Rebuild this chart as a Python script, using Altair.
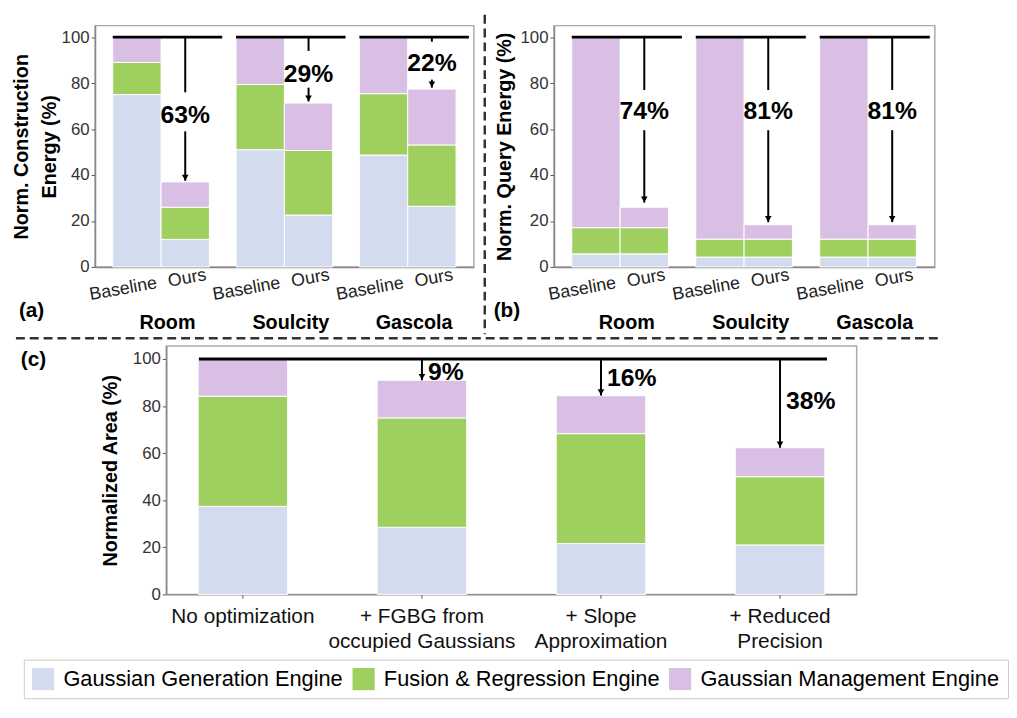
import altair as alt
import pandas as pd

FONT = "Liberation Sans"

engines = ["Gaussian Generation Engine", "Fusion & Regression Engine", "Gaussian Management Engine"]
colors = ["#D3DCEF", "#9FCF5F", "#D8BFE3"]
scenes = ["Room", "Soulcity", "Gascola"]
methods = ["Baseline", "Ours"]

# (a) construction energy, order: Room-B, Room-O, Soulcity-B, Soulcity-O, Gascola-B, Gascola-O
cons_gen = [75.0, 12.0, 51.0, 22.6, 48.7, 26.4]
cons_fus = [14.0, 14.0, 28.4, 28.1, 26.7, 26.7]
cons_mgmt = [11.0, 11.0, 20.6, 20.6, 24.6, 24.3]
cons_labels = ["63%", "29%", "22%"]
cons_text_y = [66.0, 84.0, 88.6]
cons_arrow_top_end = [76.0, 94.0, 98.0]
cons_arrow_low_start = [59.0, 78.0, 81.5]
cons_arrow_tip = [37.5, 72.0, 78.0]

# (b) query energy
query_gen = [5.7, 5.7, 4.3, 4.3, 4.3, 4.3]
query_fus = [11.4, 11.4, 7.8, 7.8, 7.8, 7.8]
query_mgmt = [82.9, 8.9, 87.9, 6.3, 87.9, 6.3]
query_labels = ["74%", "81%", "81%"]
query_text_y = [68.0, 68.0, 68.0]
query_arrow_top_end = [77.0, 77.0, 77.0]
query_arrow_low_start = [59.5, 59.5, 59.5]
query_arrow_tip = [28.0, 19.5, 19.5]

# (c) normalized area
steps = ["No optimization", "+ FGBG from\noccupied Gaussians", "+ Slope\nApproximation", "+ Reduced\nPrecision"]
area_gen = [37.4, 28.5, 21.6, 21.0]
area_fus = [46.8, 46.5, 46.7, 29.0]
area_mgmt = [15.8, 16.0, 16.1, 12.3]
area_labels = ["9%", "16%", "38%"]
area_text_y = [94.5, 92.0, 82.0]
area_arrow_tip = [91.0, 84.5, 62.3]

H_TOP = 244
DASH = dict(color="#333333", strokeWidth=2.5, strokeDash=[9, 5])
D1 = pd.DataFrame({"d": [0]})
HIDDEN = alt.ViewBackground(strokeOpacity=0)

# one shared legend (identical in every panel so that it merges into a single one)
LEGEND = alt.Legend(orient="none", legendX=-72, legendY=641, direction="horizontal",
                    title=None, symbolType="square", symbolSize=500,
                    symbolStrokeWidth=0, symbolOpacity=1, labelFontSize=22,
                    labelFont=FONT, labelColor="black", labelOffset=9,
                    columnPadding=9, padding=8, strokeColor="#cccccc",
                    labelLimit=400)
COLOR = alt.Color("engine:N", scale=alt.Scale(domain=engines, range=colors), legend=LEGEND)


def anchor(x1, x2, y1, y2):
    # invisible helper that fixes the layout extent of a panel
    return alt.Chart(D1).mark_rule(opacity=0, strokeWidth=1, color="white").encode(
        x=alt.value(x1), x2=alt.value(x2), y=alt.value(y1), y2=alt.value(y2))


def grouped_panel(gen, fus, mgmt, labels, text_y, top_end, low_start, tip,
                  ytitle, title_pad, tag, tag_x, W, extra):
    rows = []
    i = 0
    for s in scenes:
        for m in methods:
            for k, (e, v) in enumerate(zip(engines, [gen[i], fus[i], mgmt[i]])):
                rows.append({"scene": s, "method": m, "engine": e, "value": v, "ord": k})
            i += 1
    bars_df = pd.DataFrame(rows)
    ann_df = pd.DataFrame({"scene": scenes, "method": ["Ours"] * 3, "label": labels,
                           "ty": text_y, "te": top_end, "ls": low_start, "tip": tip})
    lbl_df = pd.DataFrame([{"scene": s, "method": m} for s in scenes for m in methods])

    xs = alt.Scale(domain=scenes, paddingInner=0.112, paddingOuter=0.092, align=0.78)
    x_axis = alt.X("scene:N", sort=scenes, scale=xs,
                   axis=alt.Axis(title=None, labelAngle=0, labelPadding=46, labelFontSize=20,
                                 labelFontWeight="bold", labelColor="black", labelFont=FONT,
                                 ticks=False, domainColor="#888", domainWidth=1.5))
    x = alt.X("scene:N", sort=scenes, scale=xs)
    xo = alt.XOffset("method:N", sort=methods,
                     scale=alt.Scale(domain=methods, paddingInner=0, paddingOuter=0.133, align=0))
    y = alt.Y("value:Q", stack="zero", scale=alt.Scale(domain=[0, 105], nice=False),
              axis=alt.Axis(values=[0, 20, 40, 60, 80, 100], title=ytitle, titleFontSize=20,
                            titleFontWeight="bold", titleColor="black", titleFont=FONT,
                            titlePadding=title_pad, titleLineHeight=28,
                            labelFontSize=17, labelColor="#333", labelFont=FONT,
                            tickSize=4, tickColor="#555", domainColor="#888", domainWidth=1.5,
                            grid=False))

    bars = alt.Chart(bars_df).mark_bar(stroke="white", strokeWidth=1).encode(
        x=x_axis, xOffset=xo, y=y, color=COLOR, order=alt.Order("ord:Q"))

    topline = alt.Chart(pd.DataFrame({"scene": scenes, "a": [100.6] * 3, "b": [99.4] * 3})).mark_bar(
        color="black").encode(x=x, y="a:Q", y2="b:Q")

    r1 = alt.Chart(ann_df).transform_calculate(full="100").mark_rule(color="black", strokeWidth=2).encode(
        x=x, xOffset=xo, y="full:Q", y2="te:Q")
    r2 = alt.Chart(ann_df).mark_rule(color="black", strokeWidth=2).encode(
        x=x, xOffset=xo, y="ls:Q", y2="tip:Q")
    head = alt.Chart(ann_df).transform_calculate(tc="datum.tip + 1.4").mark_point(
        shape="triangle-down", filled=True, size=45, color="black", opacity=1).encode(
        x=x, xOffset=xo, y="tc:Q")
    txt = alt.Chart(ann_df).mark_text(fontSize=25, fontWeight="bold", font=FONT, color="black").encode(
        x=x, xOffset=xo, y="ty:Q", text="label:N")

    lb_base = alt.Chart(lbl_df).transform_filter("datum.method == 'Baseline'").mark_text(
        angle=350, fontSize=18, font=FONT, color="#222", dx=-14).encode(
        x=x, xOffset=xo, y=alt.value(H_TOP + 20), text="method:N")
    lb_ours = alt.Chart(lbl_df).transform_filter("datum.method == 'Ours'").mark_text(
        angle=350, fontSize=18, font=FONT, color="#222", dx=2).encode(
        x=x, xOffset=xo, y=alt.value(H_TOP + 12), text="method:N")

    tag_mark = alt.Chart(pd.DataFrame({"t": [tag]})).mark_text(
        align="left", fontSize=21, fontWeight="bold", font=FONT, color="black").encode(
        text="t:N", x=alt.value(tag_x), y=alt.value(H_TOP + 45))

    layers = [bars, topline, r1, r2, head, txt, lb_base, lb_ours, tag_mark] + extra
    return alt.layer(*layers).properties(width=W, height=H_TOP)


extra_a = [anchor(-87, -86, -13, -12)]
vline = alt.Chart(D1).mark_rule(**DASH).encode(
    x=alt.value(-70), y=alt.value(-11), y2=alt.value(H_TOP + 68))
extra_b = [anchor(0, 1, -13, -12), vline]

panel_a = grouped_panel(cons_gen, cons_fus, cons_mgmt, cons_labels, cons_text_y,
                        cons_arrow_top_end, cons_arrow_low_start, cons_arrow_tip,
                        ["Norm. Construction", "Energy (%)"], 2, "(a)", -77, 383, extra_a)
panel_b = grouped_panel(query_gen, query_fus, query_mgmt, query_labels, query_text_y,
                        query_arrow_top_end, query_arrow_low_start, query_arrow_tip,
                        "Norm. Query Energy (%)", 6, "(b)", -61, 385, extra_b)

# (c)
W_C, H_C = 698, 251
rows_c = []
for j, st in enumerate(steps):
    for k, (e, v) in enumerate(zip(engines, [area_gen[j], area_fus[j], area_mgmt[j]])):
        rows_c.append({"step": st, "engine": e, "value": v, "ord": k})
df_c = pd.DataFrame(rows_c)
ann_c = pd.DataFrame({"step": steps[1:], "label": area_labels, "ty": area_text_y, "tip": area_arrow_tip})

xs_c = alt.Scale(domain=steps, paddingInner=0.5, paddingOuter=0.178)
xc_axis = alt.X("step:N", sort=steps, scale=xs_c,
                axis=alt.Axis(title=None, labelAngle=0, labelExpr="split(datum.label, '\\n')",
                              labelFontSize=21, labelColor="#111", labelFont=FONT, labelLineHeight=26,
                              labelPadding=7, labelLimit=400, tickSize=4, tickColor="#555",
                              domainColor="#888", domainWidth=1.5))
xc = alt.X("step:N", sort=steps, scale=xs_c)
yc = alt.Y("value:Q", stack="zero", scale=alt.Scale(domain=[0, 105.5], nice=False),
           axis=alt.Axis(values=[0, 20, 40, 60, 80, 100], title="Normalized Area (%)",
                         titleFontSize=20, titleFontWeight="bold", titleColor="black", titleFont=FONT,
                         titlePadding=12, labelFontSize=17, labelColor="#333", labelFont=FONT,
                         tickSize=4, tickColor="#555", domainColor="#888", domainWidth=1.5, grid=False))

bars_c = alt.Chart(df_c).mark_bar(stroke="white", strokeWidth=1).encode(
    x=xc_axis, y=yc, color=COLOR, order=alt.Order("ord:Q"))

topline_c = alt.Chart(D1).transform_calculate(full="100").mark_rule(color="black", strokeWidth=3).encode(
    x=alt.value(33), x2=alt.value(668), y="full:Q")
rc = alt.Chart(ann_c).transform_calculate(full="100").mark_rule(color="black", strokeWidth=2).encode(
    x=xc, y="full:Q", y2="tip:Q")
headc = alt.Chart(ann_c).transform_calculate(tc="datum.tip + 1.4").mark_point(
    shape="triangle-down", filled=True, size=45, color="black", opacity=1).encode(x=xc, y="tc:Q")
txtc = alt.Chart(ann_c).mark_text(fontSize=25, fontWeight="bold", font=FONT, color="black",
                                  align="left", dx=6).encode(x=xc, y="ty:Q", text="label:N")
hline_c = alt.Chart(D1).mark_rule(**DASH).encode(
    x=alt.value(-69), x2=alt.value(781), y=alt.value(-8))

panel_c = alt.layer(bars_c, topline_c, rc, headc, txtc, hline_c).properties(width=W_C, height=H_C)

# narrow spacer left of (c): carries the "(c)" tag and the left end of the separator
tag_c = alt.Chart(pd.DataFrame({"t": ["(c)"]})).mark_text(
    align="left", fontSize=21, fontWeight="bold", font=FONT, color="black").encode(
    text="t:N", x=alt.value(-75), y=alt.value(14))
hline_s = alt.Chart(D1).mark_rule(**DASH).encode(
    x=alt.value(-80), x2=alt.value(-1), y=alt.value(-8))
spacer = alt.layer(tag_c, hline_s).properties(width=1, height=H_C, view=HIDDEN)

row1 = alt.hconcat(panel_a, panel_b, spacing=8)
row2 = alt.hconcat(spacer, panel_c, spacing=0)

chart = alt.vconcat(row1, row2, spacing=0).properties(padding=0).configure(
    font=FONT).configure_view(stroke="#aaaaaa", strokeWidth=1.5)

chart.save("out.html", embed_options={"renderer": "svg", "actions": False})
